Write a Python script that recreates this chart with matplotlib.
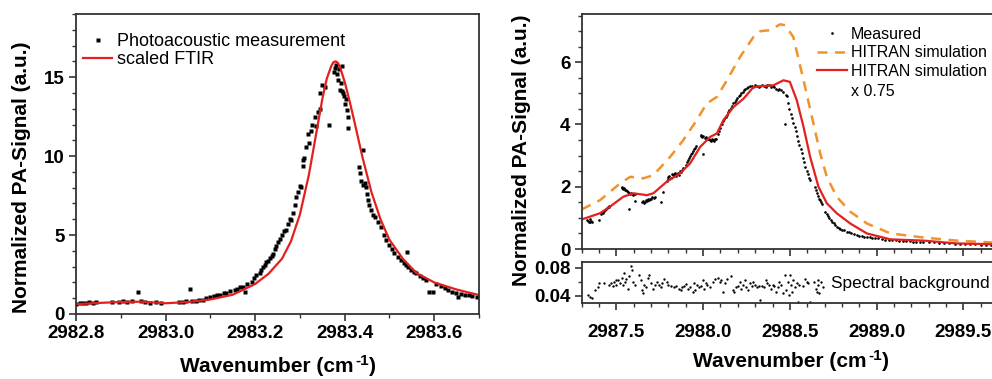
import numpy as np
import matplotlib
matplotlib.use('Agg')
import matplotlib.pyplot as plt
from matplotlib.text import Annotation
from matplotlib.ticker import MultipleLocator, FormatStrFormatter

plt.rcParams['font.family'] = ['Liberation Sans', 'DejaVu Sans']

# ---- left panel: photoacoustic measurement vs scaled FTIR ----
pa_x = [2982.800, 2982.808, 2982.815, 2982.822, 2982.830, 2982.838, 2982.845, 2982.880, 2982.895,
        2982.905, 2982.915, 2982.925, 2982.939, 2982.945, 2982.955, 2982.965, 2982.978, 2982.990,
        2983.030, 2983.038, 2983.045, 2983.054, 2983.060, 2983.068, 2983.075, 2983.083, 2983.091,
        2983.100, 2983.108, 2983.114, 2983.122, 2983.130, 2983.136, 2983.145, 2983.154, 2983.160,
        2983.167, 2983.173, 2983.177, 2983.183, 2983.192, 2983.198, 2983.203, 2983.210, 2983.214,
        2983.218, 2983.222, 2983.225, 2983.229, 2983.233, 2983.237, 2983.240, 2983.245, 2983.247,
        2983.252, 2983.255, 2983.260, 2983.265, 2983.270, 2983.274, 2983.278, 2983.281, 2983.284,
        2983.288, 2983.292, 2983.296, 2983.300, 2983.303, 2983.306, 2983.307, 2983.310, 2983.314,
        2983.318, 2983.320, 2983.324, 2983.328, 2983.333, 2983.336, 2983.340, 2983.344, 2983.346,
        2983.350, 2983.355, 2983.366, 2983.376, 2983.379, 2983.381, 2983.383, 2983.385, 2983.387,
        2983.389, 2983.391, 2983.393, 2983.394, 2983.396, 2983.398, 2983.400, 2983.403, 2983.405,
        2983.407, 2983.408, 2983.440, 2983.433, 2983.435, 2983.437, 2983.440, 2983.445, 2983.448,
        2983.450, 2983.452, 2983.455, 2983.459, 2983.463, 2983.467, 2983.475, 2983.482, 2983.488,
        2983.493, 2983.500, 2983.505, 2983.511, 2983.518, 2983.526, 2983.532, 2983.536, 2983.540,
        2983.541, 2983.548, 2983.555, 2983.560, 2983.568, 2983.575, 2983.582, 2983.589, 2983.598,
        2983.605, 2983.615, 2983.625, 2983.630, 2983.640, 2983.648, 2983.652, 2983.660, 2983.668,
        2983.678, 2983.685, 2983.695]
pa_y = [0.62, 0.70, 0.72, 0.68, 0.73, 0.70, 0.74, 0.78, 0.75,
        0.80, 0.78, 0.82, 1.37, 0.80, 0.76, 0.72, 0.74, 0.70,
        0.74, 0.78, 0.80, 1.56, 0.82, 0.85, 0.86, 0.90, 1.02,
        1.05, 1.12, 1.20, 1.22, 1.30, 1.36, 1.45, 1.52, 1.60,
        1.68, 1.74, 1.42, 1.88, 2.04, 2.25, 2.47, 2.62, 2.78,
        2.95, 3.10, 3.30, 3.35, 3.55, 3.70, 3.78, 4.10, 4.30,
        4.55, 4.75, 5.00, 5.25, 5.35, 5.70, 6.00, 5.95, 6.40,
        6.90, 7.40, 7.75, 8.10, 8.05, 9.40, 9.75, 9.90, 10.60,
        11.40, 10.80, 11.60, 12.00, 12.50, 11.90, 12.80, 13.00, 14.00,
        14.50, 14.40, 11.96, 15.30, 15.60, 15.80, 15.20, 14.80, 15.50,
        14.20, 14.60, 15.70, 14.10, 14.00, 13.80, 13.30, 13.60, 12.90,
        12.50, 11.75, 10.40, 9.30, 8.90, 8.40, 8.20, 8.30, 8.06,
        7.60, 7.20, 6.90, 6.60, 6.30, 6.16, 5.80, 5.50, 5.00,
        4.68, 4.40, 4.10, 3.84, 3.60, 3.42, 3.20, 3.10, 3.90,
        3.00, 2.80, 2.65, 2.57, 2.40, 2.25, 2.15, 1.42, 1.42,
        1.90, 1.75, 1.65, 1.52, 1.40, 1.30, 1.10, 1.25, 1.20,
        1.20, 1.15, 1.10]

ftir_x = [2982.80, 2982.85, 2982.90, 2982.95, 2983.00, 2983.05, 2983.10, 2983.15, 2983.20,
          2983.23, 2983.26, 2983.28, 2983.30, 2983.32, 2983.34, 2983.35, 2983.36, 2983.37,
          2983.375, 2983.38, 2983.385, 2983.39, 2983.40, 2983.41, 2983.42, 2983.44, 2983.46,
          2983.48, 2983.50, 2983.53, 2983.56, 2983.60, 2983.65, 2983.70]
ftir_y = [0.62, 0.70, 0.76, 0.78, 0.68, 0.76, 0.92, 1.22, 1.90,
          2.55, 3.50, 4.60, 6.30, 8.80, 12.0, 13.6, 14.9, 15.7,
          15.95, 16.0, 15.9, 15.6, 14.7, 13.6, 12.4, 9.9, 7.7,
          6.0, 4.7, 3.5, 2.6, 2.0, 1.55, 1.2]

# ---- right panel: measured vs HITRAN ----
meas_x = [2987.330, 2987.335, 2987.340, 2987.345, 2987.350, 2987.355, 2987.362, 2987.400,
          2987.410, 2987.416, 2987.420, 2987.426, 2987.432, 2987.438, 2987.444, 2987.450, 2987.456, 2987.460,
          2987.530, 2987.535, 2987.540, 2987.545, 2987.550, 2987.555, 2987.560, 2987.565, 2987.570,
          2987.575, 2987.580, 2987.585, 2987.590, 2987.598, 2987.605, 2987.610,
          2987.648, 2987.655, 2987.660, 2987.666, 2987.672, 2987.678, 2987.684, 2987.690, 2987.696,
          2987.702, 2987.708, 2987.715, 2987.722, 2987.760, 2987.770,
          2987.790, 2987.795, 2987.800, 2987.806, 2987.812, 2987.818, 2987.824, 2987.830, 2987.836,
          2987.842, 2987.848, 2987.854, 2987.860, 2987.866, 2987.872, 2987.878, 2987.884,
          2987.900, 2987.906, 2987.912, 2987.918, 2987.924, 2987.930, 2987.936, 2987.942, 2987.948,
          2987.955, 2987.960, 2988.000,
          2987.985, 2987.990, 2987.996, 2988.002, 2988.008, 2988.014, 2988.020, 2988.026, 2988.032,
          2988.038, 2988.044, 2988.050, 2988.056, 2988.062, 2988.068, 2988.075,
          2988.085, 2988.092, 2988.100, 2988.108, 2988.115, 2988.122, 2988.130, 2988.138, 2988.145,
          2988.152, 2988.160, 2988.168, 2988.175, 2988.182, 2988.190, 2988.198, 2988.205, 2988.212,
          2988.220, 2988.228, 2988.236, 2988.244, 2988.252, 2988.260, 2988.270,
          2988.280, 2988.290, 2988.300, 2988.310, 2988.320, 2988.330, 2988.340, 2988.350, 2988.360,
          2988.370, 2988.380, 2988.390, 2988.400, 2988.410, 2988.420, 2988.430,
          2988.440, 2988.450, 2988.460, 2988.470, 2988.475, 2988.483, 2988.490, 2988.497, 2988.505,
          2988.512, 2988.520, 2988.527, 2988.534, 2988.541, 2988.548, 2988.555, 2988.562, 2988.569,
          2988.576, 2988.583, 2988.590, 2988.597, 2988.604, 2988.611, 2988.617,
          2988.645, 2988.650, 2988.656, 2988.662, 2988.668, 2988.674, 2988.680, 2988.686,
          2988.705, 2988.712, 2988.720, 2988.728, 2988.736, 2988.744, 2988.752, 2988.762, 2988.772,
          2988.782, 2988.792, 2988.802, 2988.815, 2988.829, 2988.842, 2988.855, 2988.870, 2988.887,
          2988.900, 2988.915, 2988.930, 2988.945, 2988.960, 2988.975, 2988.990, 2989.010, 2989.030,
          2989.050, 2989.070, 2989.090, 2989.110, 2989.130, 2989.150, 2989.170, 2989.190, 2989.210,
          2989.230, 2989.250, 2989.270, 2989.300, 2989.330, 2989.360, 2989.390, 2989.420, 2989.450,
          2989.480, 2989.510, 2989.540, 2989.570, 2989.600, 2989.630, 2989.660]
meas_y = [0.93, 0.90, 0.88, 0.95, 0.87, 0.91, 0.86, 0.92,
          1.12, 1.18, 1.15, 1.22, 1.25, 1.30, 1.33, 1.36, 1.38, 1.35,
          1.95, 1.98, 1.92, 1.96, 1.90, 1.88, 1.85, 1.82, 1.30,
          1.80, 1.78, 1.80, 1.76, 1.74, 1.76, 1.55,
          1.50, 1.55, 1.48, 1.52, 1.58, 1.55, 1.60, 1.58, 1.62,
          1.60, 1.66, 1.64, 1.68, 1.50, 1.82,
          2.20, 2.25, 2.30, 2.35, 2.28, 2.40, 2.38, 2.42, 2.45,
          2.36, 2.40, 2.44, 2.38, 2.50, 2.46, 2.55, 2.60,
          2.70, 2.78, 2.85, 2.92, 2.98, 3.05, 3.10, 3.15, 3.20,
          3.25, 3.30, 3.04,
          3.62, 3.65, 3.60, 3.62, 3.58, 3.60, 3.55, 3.52, 3.55,
          3.50, 3.48, 3.52, 3.50, 3.48, 3.52, 3.55,
          3.70, 3.80, 3.90, 4.00, 4.10, 4.18, 4.25, 4.32, 4.40,
          4.45, 4.52, 4.60, 4.68, 4.72, 4.78, 4.85, 4.90, 4.95,
          5.00, 5.05, 5.10, 5.15, 5.18, 5.22, 5.24,
          5.25, 5.22, 5.26, 5.24, 5.22, 5.25, 5.28, 5.24, 5.22,
          5.26, 5.27, 5.22, 5.25, 5.20, 5.15, 5.12,
          5.15, 5.10, 5.05, 4.00, 4.95, 4.90, 4.70, 4.50, 4.35,
          4.20, 4.05, 3.92, 3.78, 3.62, 3.48, 3.35, 3.20, 3.07,
          2.92, 2.78, 2.64, 2.52, 2.40, 2.28, 2.22,
          1.98, 1.88, 1.79, 1.70, 1.62, 1.56, 1.50, 1.45,
          1.20, 1.12, 1.05, 0.98, 0.92, 0.86, 0.82, 0.78, 0.72,
          0.68, 0.65, 0.62, 0.60, 0.56, 0.54, 0.50, 0.48, 0.46,
          0.43, 0.42, 0.40, 0.38, 0.37, 0.36, 0.35, 0.34, 0.32,
          0.30, 0.30, 0.28, 0.28, 0.27, 0.26, 0.26, 0.25, 0.24,
          0.24, 0.23, 0.23, 0.22, 0.21, 0.20, 0.19, 0.18, 0.17,
          0.16, 0.16, 0.15, 0.15, 0.14, 0.14, 0.13]

hit_x = [2987.30, 2987.406, 2987.52, 2987.58, 2987.655, 2987.713, 2987.81, 2987.886, 2987.963,
         2988.02, 2988.08, 2988.137, 2988.213, 2988.29, 2988.33, 2988.387, 2988.444, 2988.473,
         2988.52, 2988.579, 2988.636, 2988.675, 2988.713, 2988.77, 2988.848, 2988.944, 2989.08,
         2989.27, 2989.46, 2989.70]
hit_y = [1.27, 1.57, 2.10, 2.32, 2.27, 2.37, 2.96, 3.50, 4.14,
         4.67, 4.89, 5.42, 6.17, 6.81, 7.00, 7.03, 7.22, 7.19,
         6.81, 5.42, 4.03, 3.07, 2.32, 1.68, 1.20, 0.82, 0.50,
         0.37, 0.27, 0.20]

hit75_x = [2987.30, 2987.406, 2987.463, 2987.54, 2987.598, 2987.675, 2987.713, 2987.79, 2987.867,
           2987.925, 2987.983, 2988.04, 2988.079, 2988.117, 2988.175, 2988.233, 2988.29, 2988.33,
           2988.406, 2988.463, 2988.50, 2988.54, 2988.579, 2988.617, 2988.665, 2988.713, 2988.77,
           2988.848, 2988.944, 2989.08, 2989.27, 2989.46, 2989.70]
hit75_y = [0.95, 1.15, 1.36, 1.68, 1.79, 1.73, 1.79, 2.16, 2.43,
           2.75, 3.28, 3.60, 3.71, 4.14, 4.56, 4.83, 5.20, 5.23,
           5.26, 5.42, 5.37, 4.78, 3.92, 2.96, 2.00, 1.47, 1.15,
           0.82, 0.50, 0.31, 0.27, 0.18, 0.15]

bg_x = [2987.338, 2987.347, 2987.360, 2987.375, 2987.395, 2987.400, 2987.430, 2987.460, 2987.470,
        2987.478, 2987.485, 2987.495, 2987.500, 2987.510, 2987.520, 2987.530, 2987.540, 2987.545,
        2987.550, 2987.556, 2987.565, 2987.575, 2987.585, 2987.590, 2987.596, 2987.610, 2987.630,
        2987.640, 2987.648, 2987.655, 2987.662, 2987.670, 2987.680, 2987.690, 2987.700, 2987.710,
        2987.720, 2987.735, 2987.745, 2987.755, 2987.765, 2987.775, 2987.790, 2987.800, 2987.815,
        2987.830, 2987.845, 2987.860, 2987.872, 2987.880, 2987.890, 2987.900, 2987.912, 2987.925,
        2987.940, 2987.950, 2987.956, 2987.965, 2987.975, 2987.990, 2988.000, 2988.005, 2988.015,
        2988.025, 2988.040, 2988.055, 2988.070, 2988.085, 2988.095, 2988.105, 2988.115, 2988.125,
        2988.140, 2988.160, 2988.170, 2988.180, 2988.190, 2988.200, 2988.210, 2988.220, 2988.230,
        2988.240, 2988.250, 2988.260, 2988.270, 2988.280, 2988.290, 2988.300, 2988.310, 2988.320,
        2988.330, 2988.340, 2988.350, 2988.360, 2988.370, 2988.380, 2988.390, 2988.400, 2988.410,
        2988.420, 2988.430, 2988.440, 2988.450, 2988.460, 2988.470, 2988.480, 2988.490, 2988.495,
        2988.500, 2988.505, 2988.512, 2988.520, 2988.530, 2988.540, 2988.545, 2988.555, 2988.575,
        2988.590, 2988.600, 2988.605, 2988.615, 2988.640, 2988.648, 2988.655, 2988.660, 2988.665,
        2988.670, 2988.680, 2988.690]
bg_y = [0.042, 0.039, 0.037, 0.048, 0.052, 0.058, 0.058, 0.056, 0.058,
        0.054, 0.060, 0.062, 0.055, 0.063, 0.058, 0.066, 0.056, 0.072,
        0.060, 0.064, 0.050, 0.068, 0.082, 0.076, 0.060, 0.055, 0.070,
        0.062, 0.048, 0.044, 0.056, 0.052, 0.066, 0.070, 0.058, 0.050,
        0.055, 0.060, 0.056, 0.052, 0.058, 0.064, 0.060, 0.056, 0.054,
        0.052, 0.054, 0.050, 0.048, 0.052, 0.054, 0.057, 0.050, 0.052,
        0.046, 0.058, 0.048, 0.056, 0.052, 0.054, 0.062, 0.050, 0.058,
        0.055, 0.052, 0.060, 0.064, 0.066, 0.060, 0.062, 0.046, 0.058,
        0.064, 0.068, 0.048, 0.045, 0.052, 0.054, 0.060, 0.050, 0.056,
        0.062, 0.052, 0.048, 0.058, 0.054, 0.060, 0.056, 0.052, 0.054,
        0.034, 0.054, 0.052, 0.062, 0.058, 0.056, 0.050, 0.056, 0.054,
        0.046, 0.052, 0.060, 0.056, 0.044, 0.070, 0.048, 0.060, 0.042,
        0.070, 0.056, 0.046, 0.062, 0.052, 0.058, 0.032, 0.056, 0.054,
        0.064, 0.060, 0.058, 0.032, 0.060, 0.050, 0.046, 0.056, 0.062,
        0.044, 0.060, 0.052]

RED = '#e3201e'
ORANGE = '#f2922c'
SPINE = '#333333'
W, H = 992, 379

fig = plt.figure(figsize=(9.92, 3.79), dpi=100)


def px_axes(l, t, r, b):
    return fig.add_axes([l / W, 1 - b / H, (r - l) / W, (b - t) / H])


def style(ax):
    for s in ax.spines.values():
        s.set_color(SPINE)
        s.set_linewidth(1.3)
    ax.tick_params(which='both', direction='out', top=False, right=False, color=SPINE)
    ax.tick_params(which='major', length=5, width=1.2, labelsize=13.5, pad=3)
    ax.tick_params(which='minor', length=3, width=1.0)
    for lab in ax.get_xticklabels() + ax.get_yticklabels():
        lab.set_fontweight('bold')


def wavenumber_label(x_left, y_base):
    # "Wavenumber (cm" + raised "-1" + ")", plain hyphen like the original
    t1 = fig.text(x_left / W, 1 - y_base / H, 'Wavenumber (cm', ha='left', va='baseline',
                  fontsize=15, fontweight='bold')
    sup = fig.add_artist(Annotation('-1', xy=(1, 0), xycoords=t1, xytext=(1, 8),
                                    textcoords='offset points', ha='left', va='baseline',
                                    fontsize=11, fontweight='bold'))
    fig.add_artist(Annotation(')', xy=(1, 0), xycoords=(sup, t1), xytext=(0.5, 0),
                              textcoords='offset points', ha='left', va='bottom',
                              fontsize=15, fontweight='bold'))


# left
ax1 = px_axes(76, 14, 479, 314)
ax1.plot(pa_x, pa_y, 's', color='black', ms=2.6, mec='none', label='Photoacoustic measurement')
ax1.plot(ftir_x, ftir_y, '-', color=RED, lw=1.6, label='scaled FTIR')
ax1.set_xlim(2982.8, 2983.7)
ax1.set_ylim(0, 19)
ax1.xaxis.set_major_locator(MultipleLocator(0.2))
ax1.xaxis.set_minor_locator(MultipleLocator(0.1))
ax1.yaxis.set_major_locator(MultipleLocator(5))
ax1.yaxis.set_minor_locator(MultipleLocator(1))
ax1.xaxis.set_major_formatter(FormatStrFormatter('%.1f'))
style(ax1)
ax1.legend(loc='upper left', bbox_to_anchor=(-0.018, 0.985), frameon=False, fontsize=13,
           handlelength=1.6, handletextpad=0.25, labelspacing=0.05, borderpad=0.3,
           markerscale=1.2)
wavenumber_label(180, 372)
fig.text(22 / W, 1 - 177 / H, 'Normalized PA-Signal (a.u.)', ha='center', va='center',
         rotation=90, fontsize=15, fontweight='bold')

# right, main
ax2 = px_axes(581.7, 14, 998, 249)
ax2.plot(meas_x, meas_y, 'o', color='black', ms=1.9, mec='none', label='Measured')
ax2.plot(hit_x, hit_y, '--', color=ORANGE, lw=1.8, dashes=(4, 3), label='HITRAN simulation')
ax2.plot(hit75_x, hit75_y, '-', color=RED, lw=1.6, label='HITRAN simulation')
ax2.set_xlim(2987.3, 2989.7)
ax2.set_ylim(0, 7.55)
ax2.xaxis.set_major_locator(MultipleLocator(0.5))
ax2.xaxis.set_minor_locator(MultipleLocator(0.1))
ax2.yaxis.set_major_locator(MultipleLocator(2))
ax2.yaxis.set_minor_locator(MultipleLocator(0.5))
ax2.tick_params(labelbottom=False)
style(ax2)
ax2.legend(loc='upper left', bbox_to_anchor=((818 - 581.7 - 14) / (998 - 581.7), 1.0), frameon=False,
           fontsize=11.5, handlelength=1.9, handletextpad=0.25, labelspacing=0.22, borderpad=0.3,
           markerscale=1.0)
fig.text(851 / W, 1 - 91 / H, 'x 0.75', ha='left', va='center', fontsize=11.5)

# right, background
ax3 = px_axes(581.7, 262, 998, 303)
ax3.plot(bg_x, bg_y, 'o', color='black', ms=1.7, mec='none')
ax3.set_xlim(2987.3, 2989.7)
ax3.set_ylim(0.03, 0.088)
ax3.xaxis.set_major_locator(MultipleLocator(0.5))
ax3.xaxis.set_minor_locator(MultipleLocator(0.1))
ax3.yaxis.set_major_locator(MultipleLocator(0.04))
ax3.yaxis.set_minor_locator(MultipleLocator(0.02))
ax3.yaxis.set_major_formatter(FormatStrFormatter('%.2f'))
ax3.xaxis.set_major_formatter(FormatStrFormatter('%.1f'))
style(ax3)
ax3.tick_params(axis='x', which='major', pad=10)
ax3.text(2988.74, 0.057, 'Spectral background', ha='left', va='center', fontsize=12.4)
fig.text(521.7 / W, 1 - 150 / H, 'Normalized PA-Signal (a.u.)', ha='center', va='center',
         rotation=90, fontsize=15, fontweight='bold')
wavenumber_label(693, 367)

fig.savefig('out.png', dpi=100)
